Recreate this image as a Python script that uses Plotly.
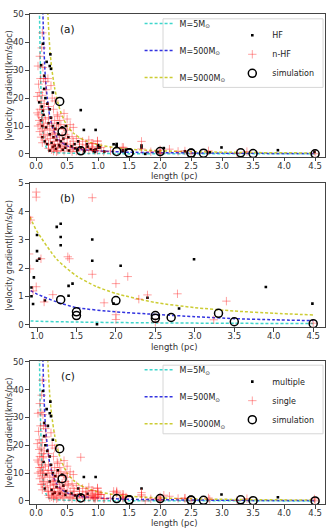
import plotly.graph_objects as go

W, H = 334, 532

# model curves (velocity gradient vs length) for three clump masses
curve_names = ["M=5M<sub>⊙</sub>", "M=500M<sub>⊙</sub>", "M=5000M<sub>⊙</sub>"]
curve_colors = ["#3fd6cc", "#3333e0", "#cccc33"]
curve_L_5 = [0.05, 0.055, 0.07, 0.085, 0.1, 0.12, 0.14, 0.17, 0.21, 0.3, 0.5, 0.92, 1.5, 2.5, 3.5, 4.5]
curve_v_5 = [62, 50, 30, 18, 11, 6.5, 3.8, 2.0, 1.0, 0.5, 0.26, 0.13, 0.09, 0.06, 0.045, 0.035]
curve_L_500 = [0.1, 0.11, 0.13, 0.15, 0.18, 0.22, 0.27, 0.33, 0.4, 0.5, 0.6, 0.7, 0.8, 0.92, 1.0,
               1.25, 1.5, 2.0, 2.5, 3.0, 3.5, 4.0, 4.5]
curve_v_500 = [60, 50, 36, 27, 20, 13.5, 9.2, 6.2, 4.3, 2.9, 2.1, 1.65, 1.4, 1.2, 1.08,
               0.8, 0.6, 0.45, 0.36, 0.28, 0.21, 0.17, 0.14]
curve_L_5000 = [0.17, 0.19, 0.22, 0.25, 0.3, 0.35, 0.4, 0.5, 0.6, 0.7, 0.8, 0.92, 1.0, 1.25, 1.5,
                1.75, 2.0, 2.5, 3.0, 3.5, 4.0, 4.5]
curve_v_5000 = [58, 50, 38, 31, 23.5, 18.5, 14.8, 10.0, 7.5, 5.8, 4.7, 3.75, 3.3, 2.31, 1.72,
                1.35, 1.1, 0.78, 0.6, 0.48, 0.4, 0.34]

# HF clumps (black dots in a/b); hf_multi = 1 if drawn as "multiple" in (c)
hf_L = [0.11, 0.08, 0.23, 0.22, 0.24, 0.17, 0.13,
        0.13, 0.09, 0.15, 0.18, 0.11, 0.22, 0.27, 0.05, 0.72,
        0.08, 0.12, 0.16, 0.2, 0.24, 0.27, 0.31, 0.35, 0.42, 0.48, 0.77, 0.96, 0.1,
        0.1, 0.14, 0.18, 0.22, 0.25, 0.28, 0.33, 0.36, 0.4, 0.44, 0.48, 0.52, 0.62, 0.68, 0.82, 0.3, 0.37,
        0.22, 0.27, 0.32, 0.38, 0.43, 0.47, 0.53, 0.57, 0.63, 0.67, 0.72, 0.78, 0.83, 0.88,
        1.25, 1.3, 1.3, 1.3, 1.0, 1.0, 1.0, 1.03, 1.7, 1.7, 2.06, 2.99, 3.9, 4.49,
        1.45, 1.4, 1.4, 0.96, 0.93, 0.93, 0.95, 2.4, 1.97, 2.8, 1.76, 1.1]
hf_v = [39.5, 31.8, 35.7, 31.5, 30.5, 33, 28,
        23.3, 17, 20, 18, 15.5, 16, 22, 18.5, 15.7,
        12, 14, 9.5, 11, 13, 10, 9, 11, 9.5, 10, 8.6, 8.6, 10,
        6, 4.5, 3.5, 7, 4, 6, 5, 7, 4.5, 5.5, 3.5, 6, 3.5, 4.5, 3.5, 3, 3.2,
        1.2, 2.5, 1.8, 2.7, 1.5, 2.2, 1.2, 2.7, 2, 1.4, 2.3, 1, 2.6, 1.7,
        3.46, 3.57, 3.1, 2.81, 3.17, 2.6, 2.26, 2.33, 3.01, 2.26, 2.08, 2.31, 1.33, 0.74,
        1.45, 1.37, 1.02, 1.67, 1.31, 1.0, 0.73, 0.95, 0.74, 0.57, 0.01, 0.85]
hf_multi = [1, 0, 1, 1, 1, 1, 1,
            1, 0, 1, 1, 0, 1, 1, 0, 0,
            0, 1, 1, 0, 1, 1, 1, 1, 1, 0, 1, 1, 0,
            0, 1, 0, 1, 1, 0, 1, 1, 0, 1, 1, 0, 0, 1, 0, 1, 0,
            0, 1, 0, 1, 0, 1, 0, 1, 1, 0, 1, 0, 1, 0,
            0, 0, 0, 0, 0, 0, 0, 0, 0, 0, 0, 1, 1, 0,
            0, 0, 0, 0, 0, 0, 0, 0, 0, 0, 0, 0]

# n-HF clumps (red crosses in a/b); nhf_multi = 1 if drawn as "multiple" in (c)
nhf_L = [0.1, 0.09, 0.06, 0.11, 0.03, 0.07, 0.12, 0.04, 0.15, 0.19,
         0.02, 0.05, 0.08, 0.1, 0.13, 0.16, 0.24, 0.2, 0.28, 0.3, 0.12, 0.06, 0.02, 0.04, 0.34, 0.26,
         0.05, 0.07, 0.09, 0.1, 0.12, 0.15, 0.18, 0.2, 0.22, 0.25, 0.28, 0.3, 0.33, 0.36, 0.38, 0.4,
         0.45, 0.5, 0.55, 0.6, 0.03, 0.14, 0.35, 0.5, 0.45,
         0.08, 0.1, 0.12, 0.15, 0.18, 0.2, 0.23, 0.26, 0.29, 0.32, 0.35, 0.38, 0.42, 0.45, 0.5, 0.55,
         0.6, 0.65, 0.7, 0.75, 0.8, 0.9, 0.3, 0.27, 0.47, 0.58, 0.85, 0.06,
         0.2, 0.25, 0.3, 0.35, 0.4, 0.45, 0.5, 0.55, 0.6, 0.65, 0.7, 0.75, 0.8, 0.85, 0.9, 0.33,
         0.42, 0.58, 0.28,
         0.99, 0.99, 1.7, 0.92, 1.39, 1.41, 1.05, 0.91, 1.7, 2.15, 2.0, 0.99, 0.95, 1.2, 1.09,
         1.85, 2.0, 2.0, 2.29, 2.4, 2.78, 2.5, 3.24, 3.4, 4.5]
nhf_v = [43.4, 38, 35, 31, 31.5, 27, 27, 25, 26, 27,
         20.6, 22, 19, 21, 18, 23, 24.5, 17, 16, 19, 16, 16, 14.7, 14, 14, 20,
         12, 10.5, 13, 9, 11, 12.5, 10, 13, 9, 11, 8.5, 12, 10, 9, 12, 10.5,
         9, 8.5, 10.5, 9.5, 10, 8.5, 13.5, 12.5, 14.5,
         6, 4, 7, 5, 6.5, 3.5, 5.5, 7, 4.5, 6, 3.5, 5, 6.5, 4, 5.5, 3.5,
         4.5, 5.5, 3.5, 4.5, 3.2, 3.8, 7.5, 3.2, 7, 6.2, 5, 8,
         2, 1.5, 2.5, 1.2, 2, 1, 2.5, 1.5, 2.2, 1, 2.5, 1.5, 2, 1.2, 2.5, 0.8,
         2.8, 0.8, 1,
         4.69, 4.51, 4.49, 3.7, 2.4, 2.33, 2.33, 1.97, 1.78, 1.7, 1.45, 1.34, 1.19, 1.06, 0.8,
         0.77, 0.35, 0.18, 0.9, 1.05, 1.09, 0.08, 0.17, 0.83, 0.05]
nhf_multi = [0, 0, 0, 0, 0, 0, 0, 0, 0, 1,
             0, 0, 0, 0, 0, 0, 0, 0, 0, 0, 0, 0, 0, 0, 0, 0,
             0, 0, 0, 0, 0, 0, 0, 0, 0, 0, 0, 0, 0, 0, 0, 0,
             0, 0, 0, 0, 0, 0, 0, 0, 0,
             0, 0, 0, 0, 0, 0, 0, 0, 0, 0, 0, 0, 0, 0, 0, 0,
             0, 0, 0, 0, 0, 0, 0, 0, 0, 0, 0, 0,
             0, 0, 0, 0, 0, 0, 0, 0, 0, 0, 0, 0, 0, 0, 0, 0,
             0, 0, 0,
             0, 0, 1, 0, 0, 0, 0, 0, 0, 0, 0, 0, 0, 0, 0,
             0, 0, 0, 0, 0, 0, 0, 0, 0, 0]

# simulated clumps
sim_L = [0.38, 0.42, 0.72, 1.3, 1.5, 1.5, 2.0, 2.5, 2.5, 2.7, 3.3, 3.5, 4.5]
sim_v = [18.8, 8.0, 1.1, 0.88, 0.45, 0.32, 0.85, 0.32, 0.22, 0.25, 0.4, 0.1, 0.03]

multi_L = [l for l, m in zip(hf_L, hf_multi) if m] + [l for l, m in zip(nhf_L, nhf_multi) if m]
multi_v = [v for v, m in zip(hf_v, hf_multi) if m] + [v for v, m in zip(nhf_v, nhf_multi) if m]
single_L = [l for l, m in zip(hf_L, hf_multi) if not m] + [l for l, m in zip(nhf_L, nhf_multi) if not m]
single_v = [v for v, m in zip(hf_v, hf_multi) if not m] + [v for v, m in zip(nhf_v, nhf_multi) if not m]

curves = [(curve_L_5, curve_v_5), (curve_L_500, curve_v_500), (curve_L_5000, curve_v_5000)]

dot_marker = dict(symbol="square", size=2.6, color="black")
cross_marker = dict(symbol="cross-thin", size=6, color="rgba(255,30,30,0.42)",
                    line=dict(width=1, color="rgba(255,30,30,0.42)"))
ring_marker = dict(symbol="circle-open", size=8, color="black", line=dict(width=1.5, color="black"))

fig = go.Figure()


def add_panel(n, black, red, names, leg_lines, leg_marks):
    xa = "x" if n == 1 else f"x{n}"
    ya = "y" if n == 1 else f"y{n}"
    show = leg_lines is not None
    for i, (cl, cv) in enumerate(curves):
        fig.add_trace(go.Scatter(
            x=cl, y=cv, mode="lines", xaxis=xa, yaxis=ya, name=curve_names[i],
            line=dict(color=curve_colors[i], width=1.5, dash="3px,2px", shape="spline", smoothing=0.6),
            showlegend=show, legend=leg_lines, legendgroup=f"{n}c{i}"))
    fig.add_trace(go.Scatter(x=black[0], y=black[1], mode="markers", xaxis=xa, yaxis=ya, name=names[0],
                             marker=dot_marker, showlegend=show, legend=leg_marks))
    fig.add_trace(go.Scatter(x=red[0], y=red[1], mode="markers", xaxis=xa, yaxis=ya, name=names[1],
                             marker=cross_marker, showlegend=show, legend=leg_marks))
    fig.add_trace(go.Scatter(x=sim_L, y=sim_v, mode="markers", xaxis=xa, yaxis=ya, name="simulation",
                             marker=ring_marker, showlegend=show, legend=leg_marks))


add_panel(1, (hf_L, hf_v), (nhf_L, nhf_v), ["HF", "n-HF"], "legend", "legend2")
add_panel(2, (hf_L, hf_v), (nhf_L, nhf_v), ["HF", "n-HF"], None, None)
add_panel(3, (multi_L, multi_v), (single_L, single_v), ["multiple", "single"], "legend3", "legend4")

# pixel boxes of the three frames (top, bottom)
frames = [(9, 154), (180.7, 326.7), (361, 505.7)]
x_dom = [29 / W, 325 / W]
axis_style = dict(showline=True, mirror=True, linecolor="#444", linewidth=1, showgrid=False,
                  zeroline=False, ticks="outside", ticklen=3.5, tickcolor="#444",
                  tickfont=dict(size=8.5, color="#333"))
xr = [[-0.1, 4.66], [0.91, 4.65], [-0.1, 4.66]]
yr = [[-1.1, 50.2], [-0.1, 5.0], [-1.1, 50.2]]
xticks = [[0, 0.5, 1, 1.5, 2, 2.5, 3, 3.5, 4, 4.5], [1, 1.5, 2, 2.5, 3, 3.5, 4, 4.5],
          [0, 0.5, 1, 1.5, 2, 2.5, 3, 3.5, 4, 4.5]]
yticks = [[0, 10, 20, 30, 40, 50], [0, 1, 2, 3, 4, 5], [0, 10, 20, 30, 40, 50]]

layout = {}
for k in range(3):
    sfx = "" if k == 0 else str(k + 1)
    top, bot = frames[k]
    layout["xaxis" + sfx] = dict(axis_style, domain=x_dom, range=xr[k], tickvals=xticks[k],
                                 tickformat=".1f", anchor="y" + sfx, ticklabelstandoff=-3)
    layout["yaxis" + sfx] = dict(axis_style, domain=[1 - bot / H, 1 - top / H], range=yr[k],
                                 tickvals=yticks[k], anchor="x" + sfx)

ann = []
for k, lab in enumerate(["(a)", "(b)", "(c)"]):
    top, bot = frames[k]
    ann.append(dict(text=lab, x=67 / W, y=1 - (top + 15) / H, font=dict(size=10.5, color="#111")))
    ann.append(dict(text="length (pc)", x=174 / W, y=1 - (bot + 19.5) / H,
                    font=dict(size=8.5, color="#333")))
    ann.append(dict(text="|velocity gradient|(km/s/pc)", x=8.5 / W, y=1 - (top + bot) / 2 / H,
                    textangle=-90, font=dict(size=8, color="#333")))
for a in ann:
    a.update(xref="paper", yref="paper", xanchor="center", yanchor="middle", showarrow=False)

shapes = []
for top in (14, 365):
    shapes.append(dict(type="rect", xref="paper", yref="paper", x0=162.5 / W, x1=323 / W,
                       y0=1 - (top + 69.5) / H, y1=1 - top / H, layer="above",
                       line=dict(color="#d6d6d6", width=1), fillcolor="rgba(255,255,255,0.8)"))

legend_base = dict(xanchor="left", yanchor="top", bgcolor="rgba(0,0,0,0)", borderwidth=0,
                   font=dict(size=8, color="#222"))
fig.update_layout(
    width=W, height=H,
    margin=dict(l=0, r=0, t=0, b=0),
    paper_bgcolor="white", plot_bgcolor="white",
    font=dict(family="DejaVu Sans"),
    annotations=ann, shapes=shapes,
    legend=dict(legend_base, x=139 / W, y=1 - 4 / H, tracegroupgap=8),
    legend2=dict(legend_base, x=232 / W, y=1 - 16 / H, tracegroupgap=0),
    legend3=dict(legend_base, x=139 / W, y=1 - 355 / H, tracegroupgap=8),
    legend4=dict(legend_base, x=232 / W, y=1 - 367 / H, tracegroupgap=0),
    **layout,
)

fig.write_html("out.html", config={"displayModeBar": False},
               post_script="document.body.style.margin='0';")
